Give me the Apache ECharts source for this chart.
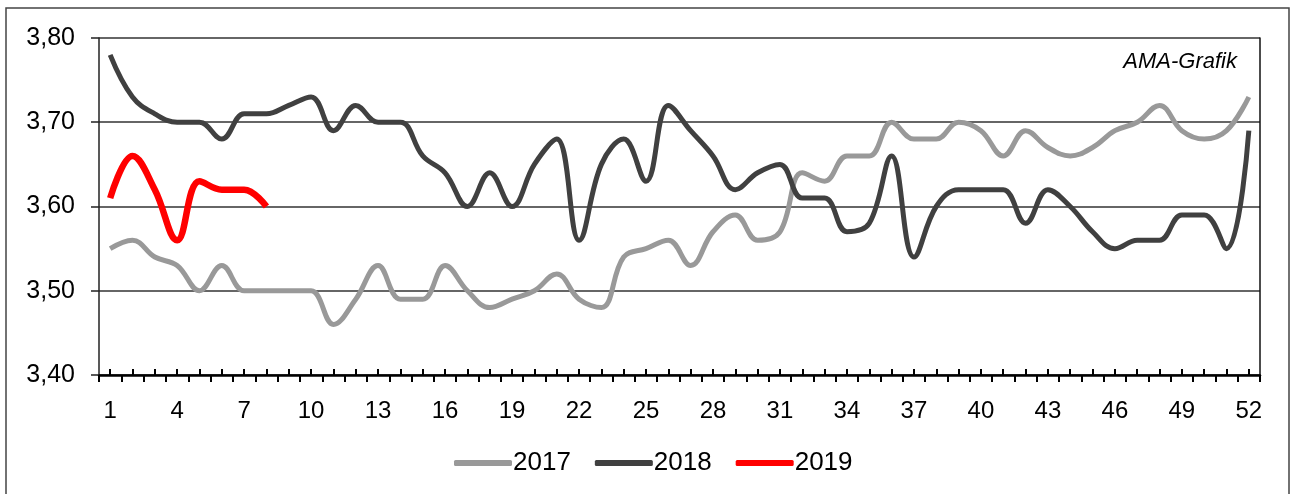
<!DOCTYPE html>
<html>
<head>
<meta charset="utf-8">
<script src="https://cdn.jsdelivr.net/npm/echarts@6/dist/echarts.min.js"></script>
<style>
html,body{margin:0;padding:0;background:#fff;}
#c{width:1292px;height:494px;}
</style>
</head>
<body>
<div id="c"></div>
<script>
const weeks = [];
for (let i = 1; i <= 52; i++) weeks.push(String(i));
const y2017 = [3.55,3.56,3.54,3.53,3.50,3.53,3.50,3.50,3.50,3.50,3.46,3.49,3.53,
  3.49,3.49,3.53,3.50,3.48,3.49,3.50,3.52,3.49,3.48,3.54,3.55,3.56,
  3.53,3.57,3.59,3.56,3.57,3.64,3.63,3.66,3.66,3.70,3.68,3.68,3.70,
  3.69,3.66,3.69,3.67,3.66,3.67,3.69,3.70,3.72,3.69,3.68,3.69,3.73];
const y2018 = [3.78,3.73,3.71,3.70,3.70,3.68,3.71,3.71,3.72,3.73,3.69,3.72,3.70,
  3.70,3.66,3.64,3.60,3.64,3.60,3.65,3.68,3.56,3.65,3.68,3.63,3.72,
  3.69,3.66,3.62,3.64,3.65,3.61,3.61,3.57,3.58,3.66,3.54,3.60,3.62,
  3.62,3.62,3.58,3.62,3.60,3.57,3.55,3.56,3.56,3.59,3.59,3.55,3.69];
const y2019 = [3.61,3.66,3.62,3.56,3.63,3.62,3.62,3.60];
const yTicks = { min: 3.4, max: 3.8, interval: 0.1 };

const FONT = "'Liberation Sans', Arial, sans-serif";
const chart = echarts.init(document.getElementById('c'));
chart.setOption({
  animation: false,
  backgroundColor: '#fff',
  grid: { left: 99, right: 32, top: 38, bottom: 119, containLabel: false },
  legend: {
    left: 449, bottom: 13,
    itemWidth: 58, itemHeight: 6, itemGap: 24,
    icon: 'roundRect',
    textStyle: { fontFamily: FONT, fontSize: 26, color: '#000', padding: [0,0,0,-4] },
    data: ['2017', '2018', '2019']
  },
  graphic: [
    { type: 'rect', silent: true, shape: { x: 6, y: 8, width: 1283, height: 500 },
      style: { fill: 'none', stroke: '#444', lineWidth: 1.5 } },
    { type: 'text', right: 55, top: 51, silent: true,
      style: { text: 'AMA-Grafik', font: 'italic 22px ' + FONT, fill: '#000' } }
  ],
  xAxis: [
    { type: 'category', data: weeks, boundaryGap: true, position: 'bottom',
      axisLine: { lineStyle: { color: '#000', width: 2.5 } },
      axisTick: { show: true, interval: 0, inside: false, length: 7, lineStyle: { color: '#000', width: 2 } },
      axisLabel: { interval: 2, margin: 24, fontFamily: FONT, fontSize: 24, color: '#000' },
      splitLine: { show: false } },
    { type: 'category', data: weeks, boundaryGap: true, position: 'bottom',
      axisLine: { show: false },
      axisTick: { show: true, interval: 0, alignWithLabel: true, inside: true, length: 6, lineStyle: { color: '#000', width: 2 } },
      axisLabel: { show: false },
      splitLine: { show: false } }
  ],
  yAxis: [
    { type: 'value', min: yTicks.min, max: yTicks.max, interval: yTicks.interval,
      axisLine: { show: true, lineStyle: { color: '#222', width: 1.5 } },
      axisTick: { show: true, length: 8, lineStyle: { color: '#222', width: 1.5 } },
      axisLabel: { margin: 24, fontFamily: FONT, fontSize: 25, color: '#000',
        formatter: v => v.toFixed(2).replace('.', ',') },
      splitLine: { show: true, lineStyle: { color: '#333', width: 1.5 } } },
    { type: 'value', min: yTicks.min, max: yTicks.max, interval: yTicks.interval, position: 'right',
      axisLine: { show: true, lineStyle: { color: '#111', width: 1.5 } },
      axisTick: { show: false }, axisLabel: { show: false }, splitLine: { show: false } }
  ],
  series: [
    { name: '2017', type: 'line', data: y2017, smooth: 0.4, symbol: 'none',
      lineStyle: { color: '#999999', width: 5 }, itemStyle: { color: '#999999' } },
    { name: '2018', type: 'line', data: y2018, smooth: 0.4, symbol: 'none',
      lineStyle: { color: '#404040', width: 5 }, itemStyle: { color: '#404040' } },
    { name: '2019', type: 'line', data: y2019, smooth: 0.4, symbol: 'none',
      lineStyle: { color: '#ff0000', width: 6.5 }, itemStyle: { color: '#ff0000' } }
  ]
});
</script>
</body>
</html>
